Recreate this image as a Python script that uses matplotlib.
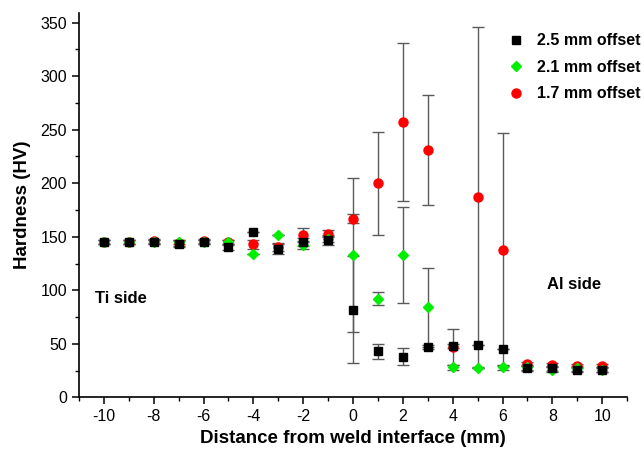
import matplotlib
matplotlib.use('Agg')
import matplotlib.pyplot as plt
import numpy as np
from matplotlib.ticker import MultipleLocator

plt.rcParams['font.family'] = ['Liberation Sans', 'DejaVu Sans']
plt.rcParams['axes.unicode_minus'] = False

# Data
distance = list(range(-10, 11))

hv_25 = [145, 145, 145, 143, 145, 140, 154, 139, 145, 147, 82, 43, 38, 47, 48, 49, 45, 27, 27, 26, 26]
err_25 = [2, 2, 2, 3, 2, 2, 0, 5, 4, 5, 50, 7, 8, 2, 2, 0, 0, 2, 2, 2, 2]

hv_21 = [145, 145, 145, 145, 145, 145, 134, 152, 142, 148, 133, 92, 133, 84, 28, 27, 28, 28, 26, 27, 26]
err_21 = [2, 2, 2, 2, 2, 2, 0, 0, 3, 3, 72, 6, 45, 37, 2, 0, 2, 2, 2, 2, 2]

hv_17 = [145, 145, 146, 144, 146, 145, 143, 140, 152, 153, 167, 200, 257, 231, 47, 187, 138, 31, 30, 29, 29]
err_17 = [2, 2, 2, 3, 2, 2, 4, 3, 6, 3, 4, 48, 74, 51, 17, 159, 109, 2, 2, 2, 2]

series = [
    ('1.7 mm offset', hv_17, err_17, 'o', '#ff0000', 6.5),
    ('2.1 mm offset', hv_21, err_21, 'D', '#00ee00', 5.5),
    ('2.5 mm offset', hv_25, err_25, 's', '#000000', 5.5),
]

fig = plt.figure(figsize=(6.44, 4.5), dpi=100)
ax = fig.add_axes([0.1227, 0.117, 0.851, 0.854])

handles = {}
for label, vals, errs, mk, col, ms in series:
    eb = ax.errorbar(distance, vals, yerr=errs, fmt=mk, color=col, ms=ms,
                     mec=col, ecolor='#5a5a5a', elinewidth=1.0, capsize=4,
                     capthick=1.0, label=label)
    handles[label] = eb

order = ['2.5 mm offset', '2.1 mm offset', '1.7 mm offset']
leg = ax.legend([handles[k][0] for k in order], order, loc='upper right',
                bbox_to_anchor=(1.05, 0.985), frameon=False,
                prop={'weight': 'bold', 'size': 11.5}, handletextpad=0.7,
                labelspacing=0.72, handlelength=1.2)

ax.text(-10.35, 92, 'Ti side', fontsize=12, fontweight='bold', va='center')
ax.text(7.8, 105, 'Al side', fontsize=12, fontweight='bold', va='center')

ax.set_xlim(-11, 11)
ax.set_ylim(0, 359)
ax.xaxis.set_major_locator(MultipleLocator(2))
ax.xaxis.set_minor_locator(MultipleLocator(1))
ax.yaxis.set_minor_locator(MultipleLocator(25))
ax.set_yticks(np.arange(0, 351, 50))
ax.spines['top'].set_visible(False)
ax.spines['right'].set_visible(False)
for s in ['left', 'bottom']:
    ax.spines[s].set_linewidth(1.2)
ax.tick_params(which='major', direction='out', length=5, width=1.1, labelsize=11.5)
ax.tick_params(which='minor', direction='out', length=3, width=1.0)

ax.set_xlabel('Distance from weld interface (mm)', fontsize=13.5, fontweight='bold', labelpad=4)
ax.set_ylabel('Hardness (HV)', fontsize=13.5, fontweight='bold', labelpad=7)

fig.savefig('out.png', dpi=100)
